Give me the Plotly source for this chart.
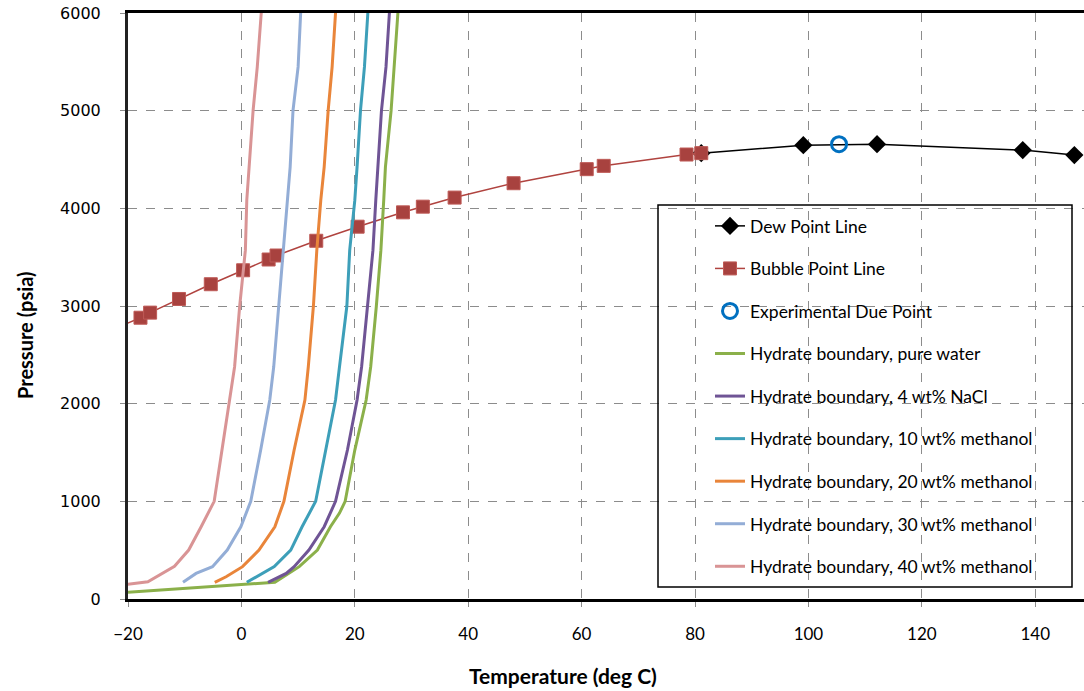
import plotly.graph_objects as go

# ---- data ----
dew_T = [81.1, 99.1, 112.1, 137.8, 146.9]
dew_P = [4565, 4647, 4657, 4596, 4545]

bubble_T = [-21.5, -17.8, -16.1, -11.0, -5.4, 0.3, 4.8, 6.2, 13.2, 20.5, 28.5, 32.0, 37.6, 48.0, 60.9, 63.9, 78.5, 81.1]
bubble_P = [2790, 2880, 2932, 3072, 3223, 3366, 3476, 3517, 3668, 3812, 3959, 4017, 4110, 4257, 4401, 4435, 4551, 4565]

exp_T = [105.4]
exp_P = [4657]

water_T = [-20.0, 5.9, 10.2, 13.4, 15.7, 17.3, 18.3, 20.0, 22.0, 22.8, 23.8, 24.6, 25.1, 25.4, 26.4, 26.9, 27.6]
water_P = [69, 171, 331, 501, 740, 880, 1000, 1525, 2037, 2378, 3000, 3572, 4084, 4425, 5000, 5448, 6000]

nacl_T = [4.7, 7.9, 9.3, 11.9, 14.6, 16.6, 18.7, 20.4, 21.2, 22.2, 23.2, 23.7, 24.1, 24.7, 25.5, 26.1]
nacl_P = [171, 262, 331, 501, 740, 1000, 1525, 2037, 2378, 3000, 3572, 4084, 4425, 5000, 5448, 6000]

m10_T = [0.95, 3.2, 5.8, 8.7, 10.7, 13.1, 14.9, 16.6, 17.3, 18.6, 19.1, 20.0, 20.4, 21.0, 21.7, 22.3]
m10_P = [171, 245, 331, 501, 740, 1000, 1525, 2037, 2378, 3000, 3572, 4084, 4425, 5000, 5448, 6000]

m20_T = [-4.7, -2.7, 0.2, 3.1, 5.9, 7.5, 9.3, 11.2, 11.8, 12.7, 13.3, 14.0, 14.6, 15.3, 16.0, 16.6]
m20_P = [171, 228, 331, 501, 740, 1000, 1525, 2037, 2378, 3000, 3572, 4084, 4425, 5000, 5448, 6000]

m30_T = [-10.3, -8.0, -5.1, -2.5, -0.1, 1.65, 3.4, 5.0, 5.7, 6.6, 7.4, 8.1, 8.6, 9.1, 10.0, 10.45]
m30_P = [171, 262, 331, 501, 740, 1000, 1525, 2037, 2378, 3000, 3572, 4084, 4425, 5000, 5448, 6000]

m40_T = [-20.3, -16.5, -11.8, -9.3, -7.1, -4.8, -3.7, -2.8, -2.0, -1.2, -0.3, 0.7, 0.95, 1.36, 2.06, 2.8, 3.5]
m40_P = [150, 177, 335, 501, 740, 1000, 1421, 1761, 2100, 2378, 3000, 3572, 4084, 4425, 5000, 5448, 6000]

x_ticks = [-20, 0, 20, 40, 60, 80, 100, 120, 140]
y_ticks = [0, 1000, 2000, 3000, 4000, 5000, 6000]

# ---- figure ----
fig = go.Figure()

fig.add_trace(go.Scatter(x=dew_T, y=dew_P, mode="lines+markers", name="Dew Point Line",
                         legendgroup="g1",
                         line=dict(color="black", width=1.5),
                         marker=dict(symbol="diamond", size=14, color="black")))
fig.add_trace(go.Scatter(x=bubble_T, y=bubble_P, mode="lines+markers", name="Bubble Point Line",
                         legendgroup="g2",
                         line=dict(color="#B0433F", width=1.5),
                         marker=dict(symbol="square", size=13, color="#A8423F",
                                     line=dict(color="#BE5A56", width=1))))
fig.add_trace(go.Scatter(x=exp_T, y=exp_P, mode="markers", name="Experimental Due Point",
                         legendgroup="g3",
                         marker=dict(symbol="circle-open", size=15, color="#0070C0",
                                     line=dict(width=3, color="#0070C0"))))

hyd = [
    ("Hydrate boundary, pure water", water_T, water_P, "#8BB04A"),
    ("Hydrate boundary, 4 wt% NaCl", nacl_T, nacl_P, "#6F5495"),
    ("Hydrate boundary, 10 wt% methanol", m10_T, m10_P, "#3D9FB9"),
    ("Hydrate boundary, 20 wt% methanol", m20_T, m20_P, "#E9853A"),
    ("Hydrate boundary, 30 wt% methanol", m30_T, m30_P, "#93ADD6"),
    ("Hydrate boundary, 40 wt% methanol", m40_T, m40_P, "#D99495"),
]
for i, (nm, xs, ys, c) in enumerate(hyd):
    fig.add_trace(go.Scatter(x=xs, y=ys, mode="lines", name=nm, legendgroup="h%d" % i,
                             line=dict(color=c, width=3)))

W, H = 1084, 691
L, R, T, B = 128, 0, 13, 92
pw, ph = W - L - R, H - T - B

def px(x):
    return (x - L) / pw

def py(y):
    return (H - B - y) / ph

fig.update_layout(
    width=W, height=H,
    margin=dict(l=L, r=R, t=T, b=B, pad=0),
    plot_bgcolor="white", paper_bgcolor="white",
    font=dict(family="Lato", size=16, color="black"),
    showlegend=True,
    legend=dict(x=px(710), y=py(208), xanchor="left", yanchor="top",
                bgcolor="rgba(0,0,0,0)", borderwidth=0,
                font=dict(family="Lato", size=17.5, color="black"),
                tracegroupgap=16.8, traceorder="grouped"),
    shapes=[dict(type="rect", xref="paper", yref="paper",
                 x0=px(658), x1=px(1072), y0=py(587), y1=py(205),
                 line=dict(color="black", width=1.5), fillcolor="rgba(0,0,0,0)")],
    annotations=[
        dict(text="<b>Temperature (deg C)</b>", xref="paper", yref="paper",
             x=px(563), y=py(675), xanchor="center", yanchor="middle", showarrow=False,
             font=dict(family="Lato", size=21, color="black")),
        dict(text="<b>Pressure (psia)</b>", xref="paper", yref="paper",
             x=px(25), y=py(335), xanchor="center", yanchor="middle", showarrow=False,
             textangle=-90,
             font=dict(family="Lato", size=20, color="black")),
    ],
)

fig.update_xaxes(range=[-20, 148.6], tickvals=x_ticks, showgrid=True,
                 gridcolor="#8C8C8C", griddash="dash", gridwidth=1.3,
                 showline=True, linecolor="black", linewidth=3, mirror=True,
                 ticks="outside", ticklen=5, tickcolor="#8C8C8C",
                 ticklabelstandoff=13, zeroline=False,
                 tickfont=dict(family="Lato", size=17, color="black"))
fig.update_yaxes(range=[0, 6000], tickvals=y_ticks, showgrid=True,
                 gridcolor="#8C8C8C", griddash="dash", gridwidth=1.3,
                 showline=True, linecolor="#222", linewidth=3, mirror=False,
                 ticks="outside", ticklen=5, tickcolor="#8C8C8C",
                 ticklabelstandoff=16, zeroline=False,
                 tickfont=dict(family="DejaVu Sans", size=16, color="black"))

fig.write_html("out.html")
